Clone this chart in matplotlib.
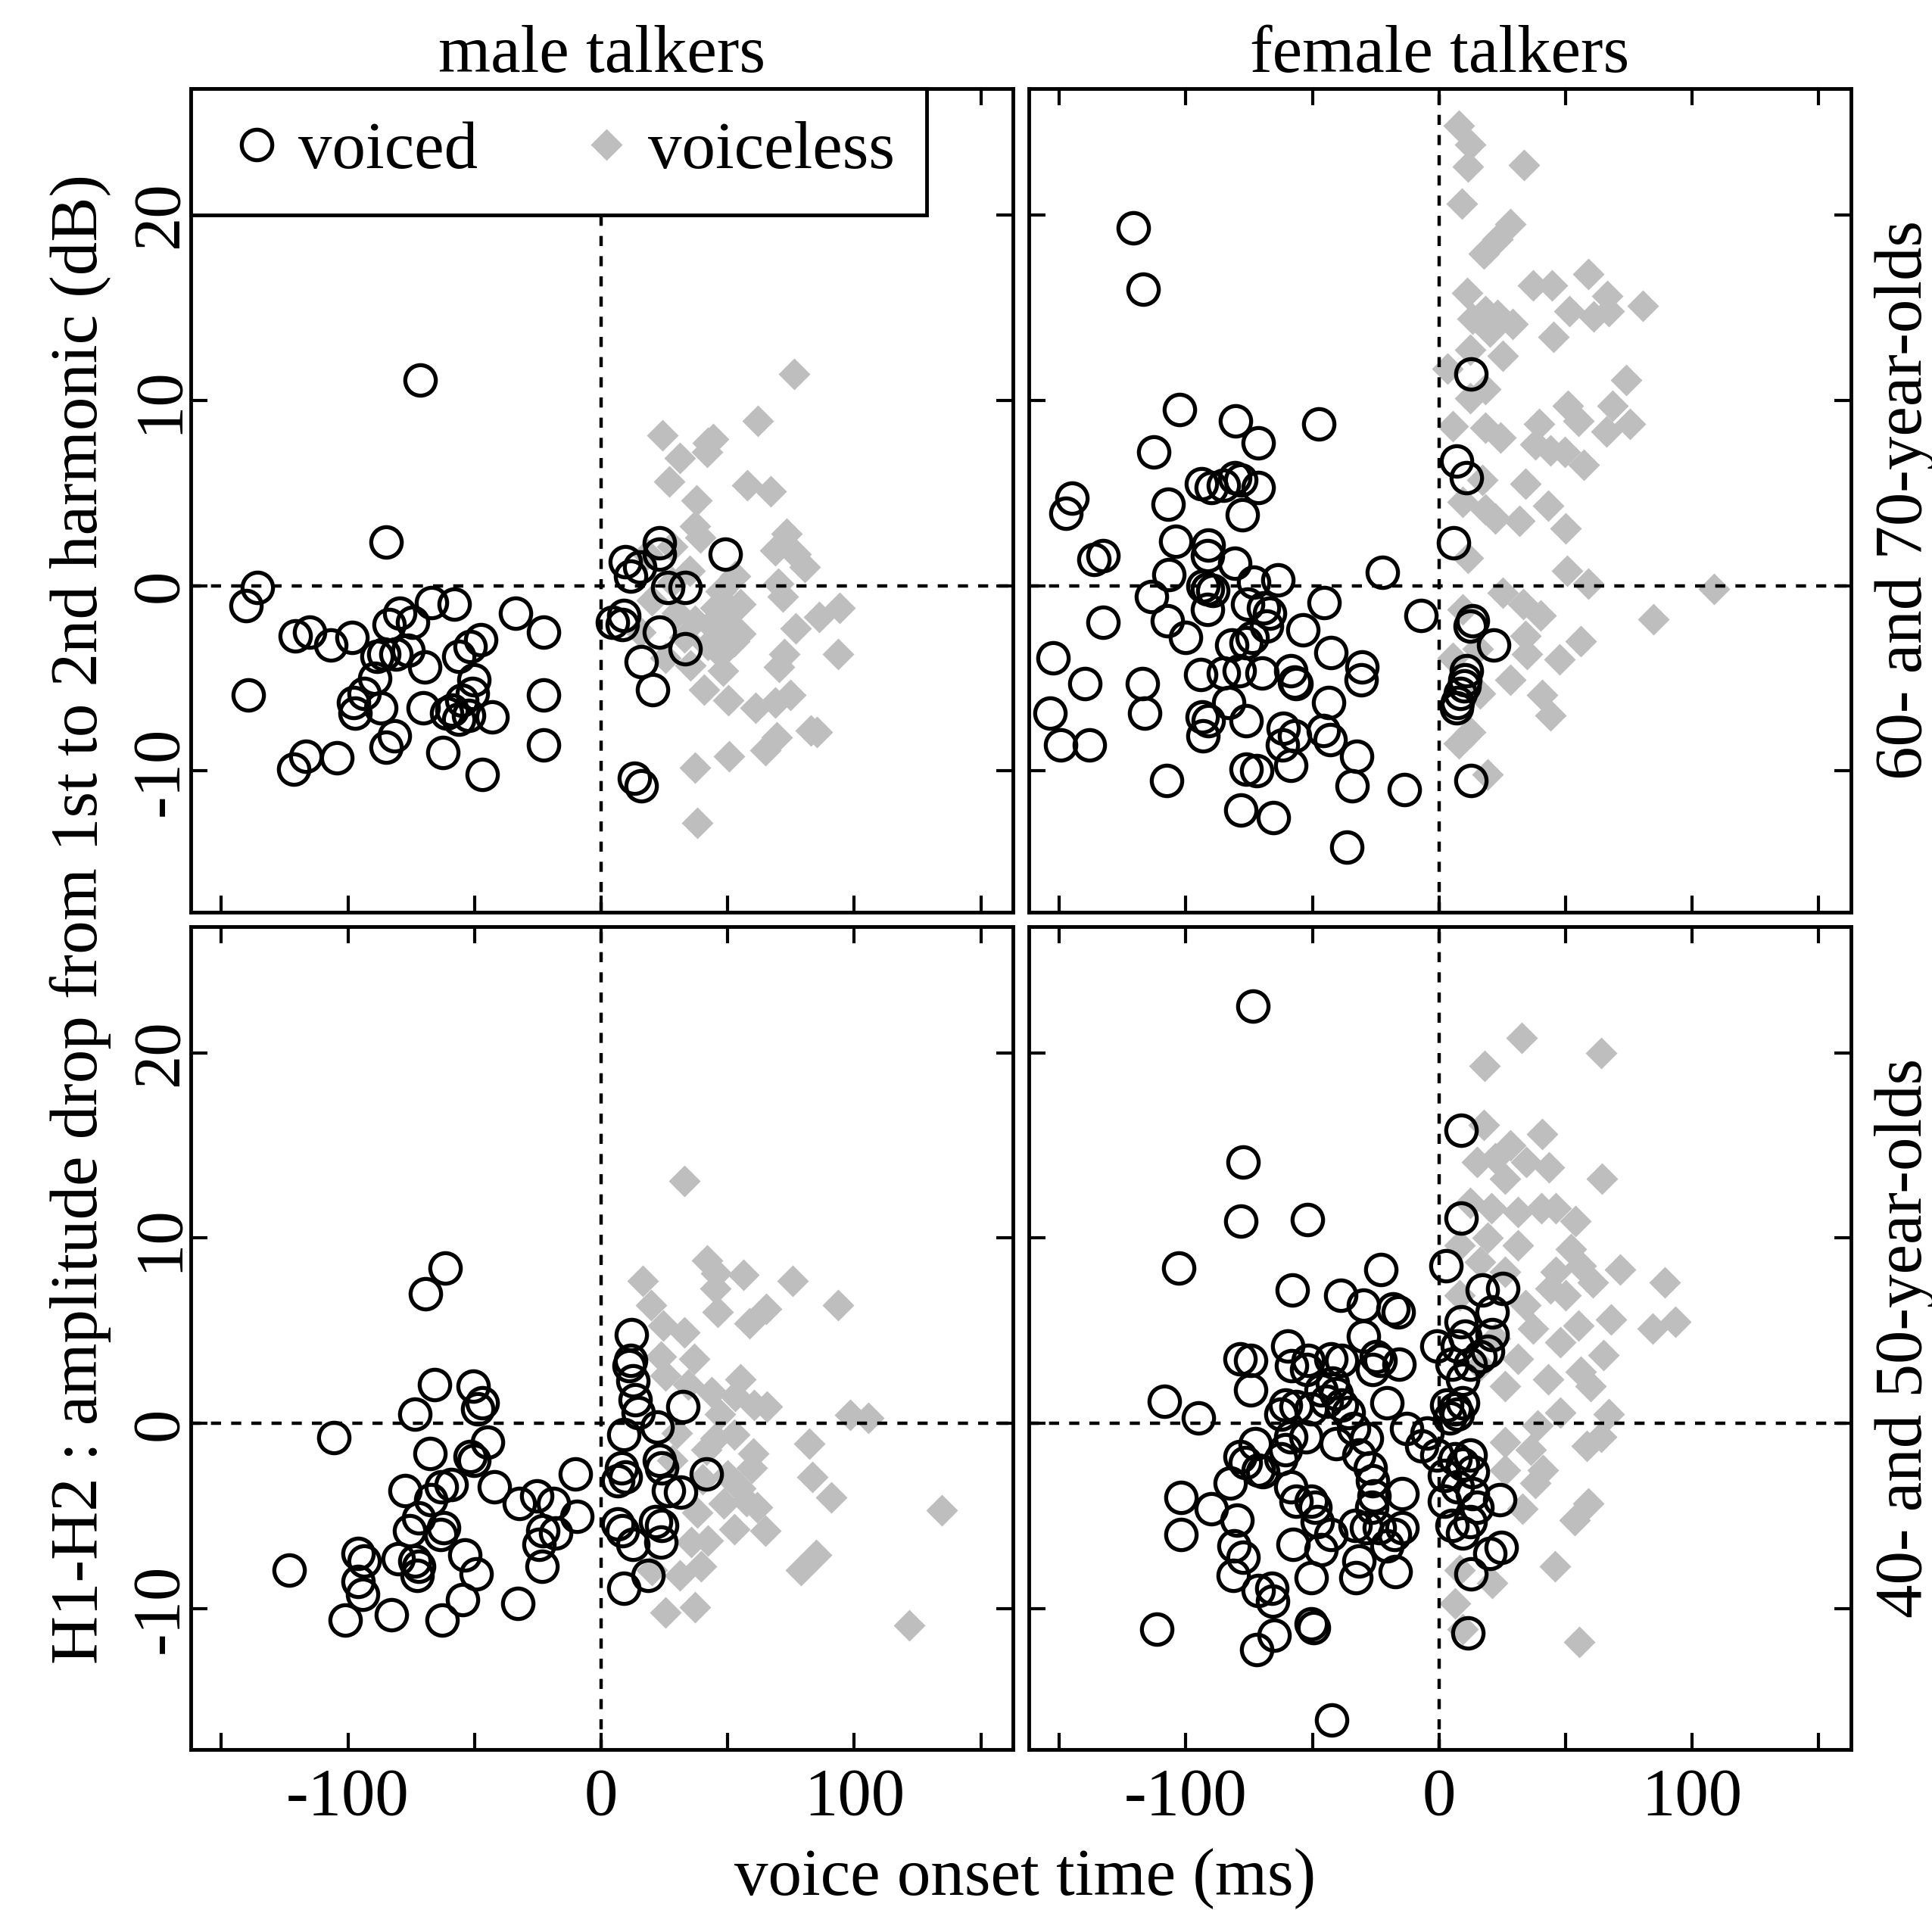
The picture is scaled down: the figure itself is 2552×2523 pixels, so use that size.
import numpy as np
import matplotlib
matplotlib.use("Agg")
import matplotlib.pyplot as plt
from matplotlib.lines import Line2D

plt.rcParams['font.family'] = ['Liberation Serif', 'DejaVu Serif']
plt.rcParams['axes.unicode_minus'] = False

# ---- data: (VOT ms, H1-H2 dB) ----
# male, 60-70, voiced
m_old_voiced_x = [-71.4, -84.9, -135.8, -140.2, -139.4, -120.7, -115.1, -106.8, -98.3, -67.0, -58.1, -33.9,
                  -22.6, -79.7, -83.7, -74.6, -85.7, -81.0, -76.4, -88.4, -69.7, -56.3, -51.7, -47.7, -89.5,
                  -93.7, -97.7, -97.1, -87.0, -50.3, -50.8, -70.4, -61.0, -56.3, -55.0, -43.0, -59.0, -52.3,
                  -22.6, -22.6, -81.7, -85.0, -116.7, -121.5, -104.4, -62.6, -47.0,
                  9.7, 15.1, 11.7, 23.1, 23.1, 26.4, 33.1, 49.1, 4.4, 9.1, 8.4, 23.1, 33.1, 15.8, 20.4, 13.1, 15.8]
m_old_voiced_y = [11.1, 2.35, -0.1, -1.1, -5.9, -2.7, -2.5, -3.2, -2.8, -0.9, -1.0, -1.5,
                  -2.5, -1.5, -2.1, -2.0, -3.7, -3.7, -3.5, -3.8, -4.4, -3.8, -3.3, -2.9, -5.0,
                  -5.8, -6.3, -6.9, -6.6, -5.1, -5.8, -6.6, -6.9, -7.2, -6.2, -7.1, -6.7, -7.0,
                  -5.9, -8.6, -8.1, -8.7, -9.2, -9.9, -9.3, -9.0, -10.2,
                  1.3, 1.0, 0.5, 2.3, 1.7, -0.1, -0.1, 1.7, -2.0, -1.6, -2.1, -2.5, -3.4, -4.1, -5.6, -10.4, -10.8]

# male, 60-70, voiceless
m_old_vless_x = [76.1, 61.9, 24.3, 31.2, 42.1, 44.1, 41.9, 26.9, 57.7, 67.1, 37.7, 37.2, 39.1, 28.2, 73.3,
                 68.9, 76.8, 80.3, 53.0, 69.9, 71.8, 47.1, 49.1, 51.0, 43.1, 37.2, 52.5, 47.1, 76.8, 86.2,
                 94.2, 93.7, 72.3, 70.4, 47.1, 48.1, 35.2, 25.3, 40.6, 50.1, 61.0, 68.9, 74.8, 69.4, 64.9,
                 82.7, 85.2, 50.6, 37.2, 37.9, 15.4, 18.3, 55.0, 30.0, 33.0, 42.0, 45.0, 28.0, 35.0, 55.0, 20.0]
m_old_vless_y = [11.4, 8.9, 8.1, 6.9, 7.7, 7.9, 7.2, 5.6, 5.4, 5.1, 4.6, 3.2, 2.6, 2.1, 2.8,
                 1.9, 1.7, 1.0, 0.5, 0.1, -0.6, -0.3, -1.0, -1.5, -2.1, -1.9, -3.0, -2.5, -2.3, -1.7,
                 -1.2, -3.7, -3.7, -4.4, -3.7, -4.6, -4.3, -3.9, -5.6, -6.2, -6.6, -6.3, -5.9, -8.2, -8.9,
                 -7.8, -7.9, -9.2, -9.8, -12.8, -2.5, 1.7, -2.6, -1.5, -2.8, -3.2, -1.2, 0.2, 0.8, -1.0, -0.8]

# female, 60-70, voiced
f_old_voiced_x = [-120.7, -116.9, -102.6, -80.3, -71.5, -47.5, -112.7, -145.0, -147.3, -107.0, -93.8, -89.8,
                  -85.2, -80.7, -78.4, -71.5, -77.8, -136.2, -132.7, -104.1, -91.2, -91.5, -80.7, -106.8,
                  -93.2, -91.5, -89.2, -91.5, -113.5, -73.2, -63.5, -75.5, -69.2, -66.9, -45.4, -22.3, -7.1,
                  -132.7, -107.2, -100.1, -68.1, -73.8, -76.1, -81.8, -53.8, -42.6, -152.5, -94.1, -85.2,
                  -78.9, -70.0, -58.4, -57.2, -56.6, -30.3, -30.7, -139.8, -117.3, -83.0, -43.5, -153.5,
                  -116.4, -93.5, -91.0, -93.2, -76.3, -61.6, -57.2, -61.8, -45.8, -42.9, -149.5, -138.2,
                  -58.6, -32.6, -107.6, -76.1, -72.1, -34.3, -13.7, -78.4, -65.4, -36.3,
                  12.5, 6.8, 10.8, 5.8, 13.2, 12.3, 21.7, 10.8, 10.3, 9.8, 8.3, 7.3, 6.8, 12.7]
f_old_voiced_y = [19.3, 16.0, 9.5, 8.9, 7.7, 8.7, 7.2, 4.7, 3.9, 4.4, 5.5, 5.3,
                  5.4, 5.8, 5.7, 5.3, 3.8, 1.4, 1.6, 2.4, 2.2, 1.6, 1.2, 0.6,
                  0.0, -0.2, -0.25, -1.3, -0.6, 0.2, 0.3, -1.0, -1.2, -1.5, -0.9, 0.7, -1.6,
                  -2.0, -1.9, -2.8, -2.2, -2.8, -3.1, -3.2, -2.4, -3.6, -3.9, -4.8, -4.7,
                  -4.6, -4.7, -4.6, -5.2, -5.3, -4.4, -5.1, -5.3, -5.3, -6.3, -6.3, -6.9,
                  -6.9, -7.1, -7.3, -8.1, -7.3, -7.7, -8.1, -8.6, -7.8, -8.3, -8.6, -8.6,
                  -9.7, -9.2, -10.5, -9.9, -10.0, -10.8, -11.0, -12.1, -12.5, -14.1,
                  11.4, 6.7, 5.8, 2.3, -1.9, -2.2, -3.2, -4.6, -5.1, -5.4, -5.8, -6.3, -6.6, -10.5]

# female, 60-70, voiceless
f_old_vless_x = [7.8, 12.3, 33.5, 11.3, 9.1, 28.2, 23.2, 17.7, 58.9, 37.2, 44.6, 66.5, 80.5, 11.1, 51.4,
                 61.1, 67.0, 13.2, 18.2, 23.2, 29.2, 20.2, 45.1, 25.2, 12.3, 3.3, 74.0, 50.9, 55.1, 68.5,
                 75.5, 12.3, 18.2, 5.3, 18.2, 24.2, 39.6, 38.1, 44.1, 49.6, 57.1, 66.0, 34.2, 43.1, 50.1,
                 17.2, 9.3, 18.2, 22.2, 31.7, 11.3, 50.6, 59.1, 108.7, 84.8, 25.2, 33.2, 40.1, 9.3, 34.2,
                 56.1, 47.6, 28.2, 34.7, 40.6, 44.1, 16.2, 12.3, 7.8, 19.2, 5.3, 15.2]
f_old_vless_y = [24.8, 23.8, 22.7, 22.6, 20.6, 19.5, 18.7, 17.9, 16.8, 16.2, 16.2, 15.6, 15.1, 15.8, 14.8,
                 14.5, 14.8, 14.4, 14.8, 14.6, 14.1, 13.7, 13.4, 12.4, 12.7, 11.7, 11.1, 9.7, 8.9, 9.7,
                 8.7, 10.1, 10.6, 8.6, 8.5, 8.0, 8.7, 7.6, 7.3, 7.2, 6.5, 8.3, 5.5, 4.3, 3.1,
                 5.7, 4.5, 4.1, 3.6, 3.5, 1.5, 0.8, 0.1, -0.2, -1.8, -0.4, -1.0, -1.6, -1.3, -2.7,
                 -3.0, -4.0, -5.1, -3.7, -5.9, -7.0, -5.8, -7.9, -8.5, -10.2, -3.9, -3.4]

# male, 40-50, voiced
m_young_voiced_x = [-61.5, -69.4, -65.7, -50.5, -47.0, -48.8, -73.7, -105.6, -45.0, -67.7, -51.8, -50.3,
                    -10.3, -77.4, -63.2, -59.3, -42.3, -67.2, -32.4, -25.4, -18.9, -9.5, -22.9, -17.9,
                    -24.4, -23.4, -72.2, -75.7, -62.3, -63.3, -53.8, -49.3, -96.1, -93.6, -80.2, -73.7,
                    -72.2, -72.7, -123.2, -96.1, -94.1, -54.8, -32.9, -101.1, -82.7, -62.7,
                    11.8, 11.5, 11.0, 12.5, 13.5, 14.5, 32.3, 9.0, 22.0, 8.0, 9.5, 6.5, 23.0, 24.0,
                    41.5, 26.5, 31.5, 6.5, 8.5, 21.5, 24.0, 12.5, 23.5, 18.5, 9.0]
m_young_voiced_y = [8.4, 7.0, 2.1, 2.0, 1.1, 0.8, 0.5, -0.75, -1.0, -1.6, -1.8, -2.0,
                    -2.7, -3.6, -3.4, -3.3, -3.4, -4.1, -4.3, -3.9, -4.3, -5.0, -5.8, -5.9,
                    -6.5, -7.7, -5.1, -5.8, -5.6, -6.0, -7.1, -8.1, -7.0, -7.4, -7.3, -7.4,
                    -7.7, -8.2, -7.9, -8.5, -9.2, -9.5, -9.7, -10.6, -10.3, -10.6,
                    4.8, 3.4, 3.1, 2.3, 1.3, 0.6, 0.9, -0.6, -0.2, -2.4, -2.9, -3.1, -2.0, -2.4,
                    -2.7, -3.6, -3.7, -5.4, -5.8, -5.3, -5.5, -6.5, -6.4, -8.2, -8.9]

# male, 40-50, voiceless
m_young_vless_x = [33.0, 41.8, 45.5, 16.5, 56.3, 75.5, 93.5, 19.8, 45.0, 46.0, 65.3, 58.5, 24.5, 33.0,
                   23.5, 36.8, 55.0, 43.5, 60.5, 65.5, 53.0, 98.3, 105.5, 25.5, 34.5, 52.5, 82.3, 60.0,
                   41.5, 59.5, 83.5, 91.0, 134.5, 48.5, 57.5, 61.5, 52.5, 65.0, 42.0, 35.5, 85.0, 79.0,
                   39.5, 31.0, 25.4, 37.1, 121.8, 19.9, 40.0, 45.0, 50.0, 38.0, 55.0, 30.0, 28.0, 47.0]
m_young_vless_y = [13.1, 8.8, 8.1, 7.7, 8.0, 7.7, 6.4, 6.4, 7.3, 6.0, 6.2, 5.4, 5.3, 4.9,
                   3.6, 3.5, 2.4, 1.7, 1.0, 0.9, 1.5, 0.45, 0.3, 2.6, 2.1, -0.6, -1.1, -1.6,
                   -1.4, -2.4, -2.9, -4.0, -4.7, -4.3, -4.2, -4.5, -5.7, -5.8, -6.3, -6.4, -7.1, -7.9,
                   -7.7, -8.2, -10.2, -9.9, -10.9, -7.9, -3.0, -0.8, -2.8, -4.8, -3.5, -0.5, -2.0, 0.5]

# female, 40-50, voiced
f_young_voiced_x = [-73.5, -77.5, -78.3, -52.1, -102.9, -23.0, -57.8, -38.8, -29.7, -18.2, -16.2, -29.7,
                    -59.6, -78.5, -74.3, -51.7, -58.2, -52.3, -42.6, -38.6, -24.7, -23.2, -15.7, -26.2,
                    -74.5, -108.4, -94.9, -20.7, -42.1, -46.6, -40.6, -60.6, -56.6, -50.6, -44.6, -38.6,
                    -35.7, -62.5,
                    8.7, 8.7, 2.7, 17.1, 25.1, 21.1, 8.7, 21.1, 10.2, -0.8, 7.2, 19.1, 5.2, 12.2, 16.1,
                    9.2, 3.2, 6.2, 9.2,
                    -12.7, -4.8, -6.8, -0.8, -28.7, -33.7, -40.6, -52.6, -58.6, -60.6, -72.5, -78.5,
                    -76.5, -69.5, -71.5, -62.5, -82.5, -101.9, -90.0, -79.7, -101.9, -81.0, -77.5, -81.4,
                    -71.5, -66.1, -65.6, -65.0, -72.0, -111.4, -58.6, -56.6, -50.6, -49.1, -48.1, -57.6,
                    -46.6, -42.6, -50.6, -49.6, -50.6, -42.3, -31.7, -27.2, -26.2, -25.7, -26.7, -33.2,
                    -28.7, -31.7, -32.7, -14.7, -14.7, -17.7, -20.7, -17.2, -23.7,
                    2.2, 2.2, 6.2, 9.2, 12.2, 13.1, 5.2, 9.2, 12.2, 13.1, 7.2, 15.1, 24.1, 24.5, 20.1,
                    12.6, 11.4, 7.2, 4.2]
f_young_voiced_y = [22.5, 14.1, 10.9, 11.0, 8.4, 8.3, 7.2, 6.9, 6.4, 6.2, 6.0, 4.7,
                    4.2, 3.5, 3.4, 3.4, 3.1, 2.9, 3.5, 3.4, 3.6, 3.4, 3.2, 2.9,
                    1.8, 1.2, 0.3, 1.1, 2.2, 1.8, 1.6, 1.0, 0.9, 0.8, 1.2, 1.0,
                    0.6, 0.5,
                    15.8, 11.1, 8.5, 7.2, 7.3, 6.0, 5.5, 4.8, 4.7, 4.2, 4.2, 3.9, 3.2, 3.2, 3.6,
                    2.4, 1.0, 0.8, 1.1,
                    -0.25, -0.5, -1.2, -1.7, -0.8, -0.25, -1.1, -0.7, -0.7, -1.4, -1.1, -1.8,
                    -2.1, -2.6, -2.5, -1.9, -3.2, -4.0, -4.6, -5.2, -6.0, -6.6, -7.2, -8.2,
                    -9.0, -8.9, -9.6, -11.4, -12.2, -11.1, -3.4, -4.2, -4.2, -4.5, -5.3, -6.5,
                    -6.8, -6.0, -8.3, -11.0, -10.8, -16.0, -1.7, -2.4, -3.1, -3.9, -4.5, -5.5,
                    -5.6, -7.4, -8.3, -3.8, -5.6, -6.0, -6.6, -8.0, -5.6,
                    -2.8, -4.2, -1.9, -2.2, -1.7, -2.6, -5.5, -5.9, -5.3, -3.8, -3.4, -4.5, -4.1, -6.7, -7.0,
                    -8.1, -11.3, 0.5, 0.3]

# female, 40-50, voiceless
f_young_vless_x = [32.6, 18.1, 63.9, 17.6, 40.8, 28.1, 15.1, 22.1, 34.3, 43.5, 26.1, 64.4, 12.2, 20.6,
                   31.1, 40.5, 46.0, 54.0, 19.1, 31.1, 52.0, 71.4, 89.3, 8.2, 16.1, 26.1, 46.0, 56.0,
                   44.0, 60.9, 8.2, 34.1, 50.0, 67.9, 55.0, 84.4, 93.3, 37.0, 48.0, 64.9, 22.1, 31.1,
                   43.0, 56.0, 60.0, 16.1, 26.1, 66.9, 39.0, 48.0, 58.5, 64.0, 36.1, 41.0, 38.0, 26.1,
                   33.1, 59.0, 53.5, 26.1, 45.8, 21.1, 8.2, 6.2, 9.2, 55.5]
f_young_vless_y = [20.8, 19.3, 20.0, 16.1, 15.6, 15.0, 14.1, 14.3, 14.1, 13.8, 13.2, 13.2, 11.9, 11.6,
                   11.4, 11.6, 11.6, 10.9, 10.0, 9.6, 9.4, 8.3, 7.6, 9.6, 8.7, 8.2, 8.2, 8.5,
                   7.3, 7.6, 6.9, 6.4, 6.9, 5.6, 5.3, 5.1, 5.5, 5.1, 4.4, 3.7, 4.6, 3.5,
                   2.4, 2.8, 2.0, 3.1, 2.0, 0.5, -0.1, 0.6, -1.2, -0.7, -1.4, -2.5, -3.2, -2.5,
                   -4.6, -4.3, -5.2, -1.0, -7.7, -8.6, -7.9, -9.7, -11.1, -11.8]

col_titles = ['male talkers', 'female talkers']
row_titles = ['60- and 70-year-olds', '40- and 50-year-olds']
x_ticks = [-150, -100, -50, 0, 50, 100, 150]
x_ticklabels = ['', '-100', '', '0', '', '100', '']
y_ticks = [-10, 0, 10, 20]

panels = [
    [(m_old_voiced_x, m_old_voiced_y, m_old_vless_x, m_old_vless_y),
     (f_old_voiced_x, f_old_voiced_y, f_old_vless_x, f_old_vless_y)],
    [(m_young_voiced_x, m_young_voiced_y, m_young_vless_x, m_young_vless_y),
     (f_young_voiced_x, f_young_voiced_y, f_young_vless_x, f_young_vless_y)],
]

FS = 64
GREY = '#BEBEBE'

fig = plt.figure(figsize=(25.52, 25.23), dpi=100)

lefts = [0.09885, 0.53253]
bottoms = [0.52258, 0.08387]
w, h = 0.42538, 0.43097

for r in range(2):
    for c in range(2):
        ax = fig.add_axes([lefts[c], bottoms[r], w, h])
        vx, vy, ux, uy = panels[r][c]
        ax.plot(ux, uy, linestyle='none', marker='D', ms=21, color=GREY, mec='none', zorder=2)
        ax.axhline(0, color='black', lw=3.2, linestyle=(0, (3.0, 3.0)), zorder=2.5)
        ax.axvline(0, color='black', lw=3.2, linestyle=(0, (3.0, 3.0)), zorder=2.5)
        ax.plot(vx, vy, linestyle='none', marker='o', ms=29, mfc='none', mec='black', mew=3.8, zorder=3)

        ax.set_xlim(-162, 162.6)
        ax.set_ylim(-17.6, 26.8)
        ax.set_xticks(x_ticks)
        ax.set_yticks(y_ticks)
        ax.tick_params(direction='in', length=16, width=3, top=True, right=True,
                       labelsize=FS, pad=17)
        ax.tick_params(axis='y', pad=0, labelrotation=90)
        if r == 1:
            ax.set_xticklabels(x_ticklabels)
        else:
            ax.set_xticklabels([])
        if c == 0:
            ax.set_yticklabels([str(t) for t in y_ticks], va='center')
        else:
            ax.set_yticklabels([])
        for s in ax.spines.values():
            s.set_linewidth(3.5)

        if r == 0 and c == 0:
            handles = [
                Line2D([], [], linestyle='none', marker='o', ms=29, mfc='none', mec='black', mew=3.8),
                Line2D([], [], linestyle='none', marker='D', ms=21, color=GREY, mec='none'),
            ]
            leg = ax.legend(handles, ['voiced', 'voiceless'], loc='upper left', ncol=2,
                            borderaxespad=0, borderpad=0.48, handlelength=1.0, handletextpad=0.12,
                            columnspacing=1.4, fontsize=FS, fancybox=False, framealpha=1,
                            edgecolor='black')
            leg.get_frame().set_linewidth(3.5)
            leg.set_zorder(10)

for c in range(2):
    fig.text(lefts[c] + w / 2, 0.971, col_titles[c], ha='center', va='center', fontsize=FS)
for r in range(2):
    fig.text(0.986, bottoms[r] + h / 2, row_titles[r], ha='center', va='center', rotation=90, fontsize=FS)

fig.text(0.5305, 0.0165, 'voice onset time (ms)', ha='center', va='center', fontsize=FS)
fig.text(0.0415, 0.519, 'H1-H2 : amplitude drop from 1st to 2nd harmonic (dB)',
         ha='center', va='center', rotation=90, fontsize=FS)

fig.savefig('out.png', dpi=100)
